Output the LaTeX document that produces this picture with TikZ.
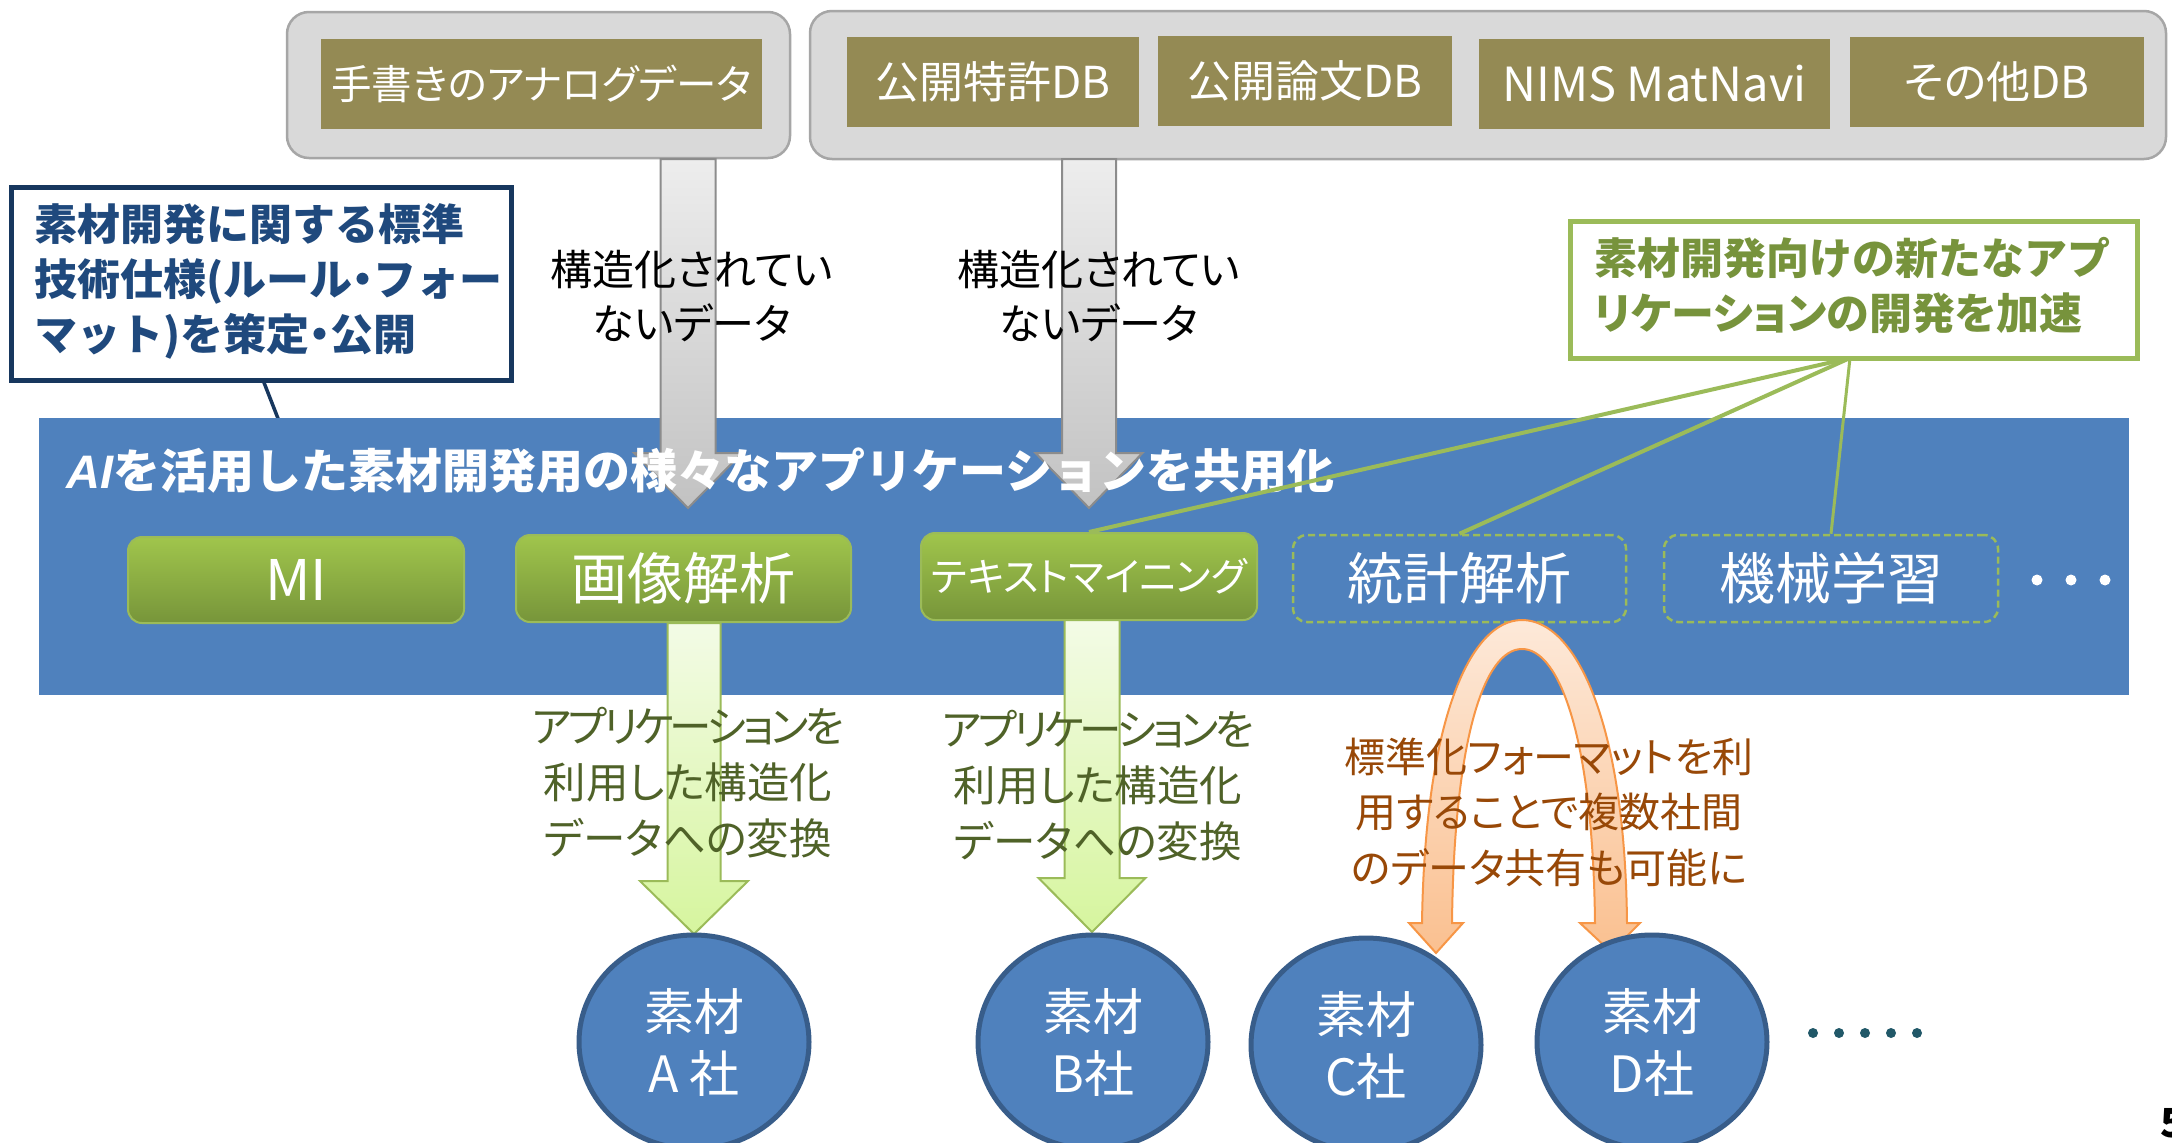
\documentclass[tikz,border=0pt]{standalone}
\usepackage{fontspec}
\setmainfont{Noto Sans CJK JP}
\newfontfamily\pj{Noto Sans CJK JP}[RawFeature=+palt]
\newfontfamily\pjt{Noto Sans CJK JP}[RawFeature=+palt, LetterSpace=-9]
\newfontfamily\ailatin{Liberation Sans}
\usetikzlibrary{shapes.geometric}
\newcommand\fsz[2]{\fontsize{#1}{#2}\selectfont}
\definecolor{olivec}{HTML}{948A54}
\definecolor{grayfill}{HTML}{D9D9D9}
\definecolor{grayborder}{HTML}{A6A6A6}
\definecolor{bandblue}{HTML}{4F81BD}
\definecolor{ellborder}{HTML}{385D8A}
\definecolor{gtop}{HTML}{A0C54C}
\definecolor{gbot}{HTML}{77953A}
\definecolor{gborder}{HTML}{9BBB59}
\definecolor{callnavy}{HTML}{17375E}
\definecolor{calltext}{HTML}{1F497D}
\definecolor{calltextg}{HTML}{77933C}
\definecolor{arrowtext}{HTML}{4F6228}
\definecolor{orangetext}{HTML}{984807}
\definecolor{orangeborder}{HTML}{F79646}
\definecolor{orangetop}{HTML}{FDE9D9}
\definecolor{orangebot}{HTML}{FAC090}
\definecolor{tealdot}{HTML}{215868}
\definecolor{gatop}{HTML}{EDEDED}
\definecolor{gabot}{HTML}{C2C2C2}
\definecolor{gaborder}{HTML}{8C8C8C}
\definecolor{lgtop}{HTML}{F3FBE6}
\definecolor{lgbot}{HTML}{D6F59E}
% block arrow pointing down: #1 style, #2 x, #3 ytop, #4 yhead, #5 ytip, #6 shaft half, #7 head half
\newcommand\blockdn[7]{%
  \shade[#1] (#2-#6,#3) -- (#2+#6,#3) -- (#2+#6,#4) -- (#2+#7,#4) -- (#2,#5)
    -- (#2-#7,#4) -- (#2-#6,#4) -- cycle;}
\begin{document}
\begin{tikzpicture}[x=1pt,y=-1pt,
  graybox/.style={draw=grayborder, fill=grayfill, line width=2.5pt, rounded corners=22pt, inner sep=0pt},
  olivebox/.style={fill=olivec, text=white, inner sep=0pt, font=\pj\fsz{44}{52}},
  appbox/.style={top color=gtop, bottom color=gbot, draw=gborder, line width=2pt, rounded corners=14pt, text=white, inner sep=0pt},
  dashbox/.style={draw=gborder, dash pattern=on 7pt off 4pt, line width=2.5pt, rounded corners=14pt, text=white, inner sep=0pt},
  comp/.style={ellipse, fill=bandblue, draw=ellborder, line width=5pt, text=white, minimum width=230pt, minimum height=214pt, inner sep=0pt, align=center, font=\fsz{50}{62}},
  grayarrow/.style={top color=gatop, bottom color=gabot, draw=gaborder, line width=2pt},
  greenarrow/.style={top color=lgtop, bottom color=lgbot, draw=gborder, line width=2pt},
  plaintext/.style={inner sep=0pt, align=center},
  glink/.style={draw=gborder, line width=4pt},
]
\clip (0,0) rectangle (2172,1143);
\fill[white] (0,0) rectangle (2172,1143);

% source groups
\node[graybox, minimum width=503pt, minimum height=146pt] (src1) at (538.5,85) {};
\node[graybox, minimum width=1356pt, minimum height=148pt] (src2) at (1488,85) {};
\node[olivebox, minimum width=441pt, minimum height=90pt, font=\pj\fsz{40.5}{50}] (hw) at (541.5,84) {手書きのアナログデータ};
\node[olivebox, minimum width=292pt, minimum height=90pt] (pat) at (993,82) {公開特許DB};
\node[olivebox, minimum width=294pt, minimum height=90pt] (pap) at (1305,81) {公開論文DB};
\node[olivebox, minimum width=351pt, minimum height=90pt, font=\pj\fsz{47}{52}] (nims) at (1654.5,84) {NIMS MatNavi};
\node[olivebox, minimum width=294pt, minimum height=90pt] (oth) at (1997,82) {その他DB};

% left callout
\coordinate (clend) at (279,421);
\node[draw=callnavy, fill=white, line width=5pt, minimum width=500pt, minimum height=193pt, inner sep=0pt] (cl) at (261,283.5) {};
\draw[callnavy, line width=3.5pt] (263,380) -- (clend);
\node[anchor=north west, inner sep=0pt, align=left, text=calltext, font=\bfseries\fsz{43}{55}] (cltext) at (34,203)
  {素材開発に関する標準\\技術仕様(ルール{\pj ・}フォー\\マット)を策定{\pj ・}公開};

% right callout
\node[draw=gborder, fill=white, line width=5pt, minimum width=567pt, minimum height=137pt, inner sep=0pt] (cr) at (1853.5,289.5) {};
\node[anchor=north west, inner sep=0pt, align=left, text=calltextg, font=\bfseries\fsz{43}{55}] (crtext) at (1594,237)
  {素材開発向けの新たなアプ\\{\pj リケーションの開発を加速}};

% band
\node[fill=bandblue, minimum width=2090pt, minimum height=277pt, inner sep=0pt] (band) at (1084,556.5) {};

% gray arrows
\blockdn{grayarrow}{688}{159}{453}{508}{27.5}{54}
\blockdn{grayarrow}{1089}{159}{453}{508}{27}{53.5}

% title
\node[anchor=west, inner sep=0pt, text=white, font=\bfseries\fsz{47}{50}] (title) at (66,471)
  {{\ailatin\itshape AI}を活用した素材開発用の様々なアプリケーションを共用化};

% application boxes
\node[appbox, minimum width=336pt, minimum height=86pt, font=\fsz{56}{60}] (mi) at (296,580) {MI};
\node[appbox, minimum width=335pt, minimum height=87pt, font=\fsz{56}{60}] (img) at (683.5,578.5) {画像解析};
\node[appbox, minimum width=336pt, minimum height=87pt, font=\pj\fsz{39.5}{50}] (txt) at (1089,576.5) {テキストマイニング};
\node[dashbox, minimum width=333pt, minimum height=87pt, font=\fsz{56}{60}] (stat) at (1459.5,578.5) {統計解析};
\node[dashbox, minimum width=334pt, minimum height=87pt, font=\fsz{56}{60}] (ml) at (1831,578.5) {機械学習};
\foreach \dx in {2037,2071,2105} \fill[white] (\dx,580) circle (5.5pt);

% links from right callout
\coordinate (crfoot) at (1850,358);
\draw[glink] (crfoot) -- (txt.north);
\draw[glink] (crfoot) -- (stat.north);
\draw[glink, line width=3pt] (crfoot) -- (ml.north);

% texts on gray arrows
\node[plaintext, font=\pj\fsz{42}{54}] (un1) at (692,296) {構造化されてい\\ないデータ};
\node[plaintext, font=\pj\fsz{42}{54}] (un2) at (1099,296) {構造化されてい\\ないデータ};

% green arrows
\blockdn{greenarrow}{694}{623}{881}{934}{26.5}{54}
\blockdn{greenarrow}{1092}{620}{878}{932}{27.5}{53.5}

% orange arc
\shade[top color=orangetop, bottom color=orangebot, draw=orangeborder, line width=2pt]
  (1422,923) .. controls (1425,720) and (1470,620) .. (1522,620)
  .. controls (1575,620) and (1625,720) .. (1627,923)
  -- (1640,923) -- (1611,952) -- (1580,923) -- (1595,923)
  .. controls (1593,740) and (1560,649) .. (1522,649)
  .. controls (1484,649) and (1454,740) .. (1452,923)
  -- (1463,923) -- (1436,953) -- (1409,923) -- cycle;

% companies
\node[comp] (ca) at (694,1042) {素材\\A 社};
\node[comp] (cb) at (1093,1042) {素材\\B社};
\node[comp] (cc) at (1366,1045) {素材\\C社};
\node[comp] (cd) at (1652,1042) {素材\\D社};
\foreach \dx in {1813,1839,1865,1891,1917} \fill[tealdot] (\dx,1033) circle (5pt);

% arrow texts
\node[plaintext, text=arrowtext, font=\pj\fsz{42.5}{56}] (conva) at (688,783) {{\pjt アプリケーションを}\\利用した構造化\\データへの変換};
\node[plaintext, text=arrowtext, font=\pj\fsz{42.5}{56}] (convb) at (1098,786) {{\pjt アプリケーションを}\\利用した構造化\\データへの変換};
\node[plaintext, text=orangetext, font=\pj\fsz{41}{55.5}] (share) at (1549,812) {標準化フォーマットを利\\用することで複数社間\\のデータ共有も可能に};

% page number
\node[anchor=north west, inner sep=0pt, font=\bfseries\fsz{40}{44}] (pg) at (2160,1108) {5};
\end{tikzpicture}
\end{document}
